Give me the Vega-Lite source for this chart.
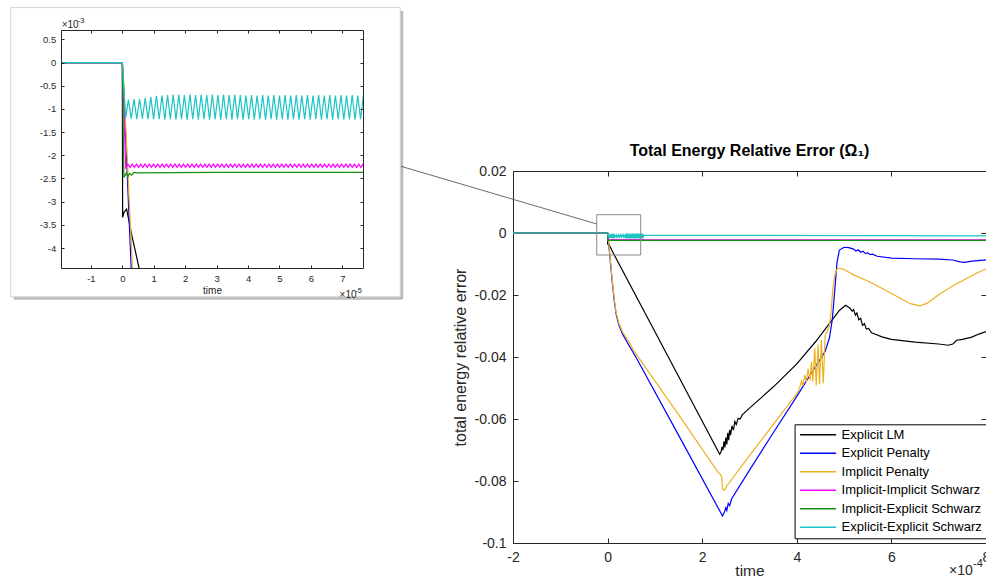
{
"$schema": "https://vega.github.io/schema/vega-lite/v6.json",
"background": "white",
"padding": {"left": 10, "top": 7, "right": 0, "bottom": 0},
"config": {
  "view": {"stroke": null},
  "font": "Liberation Sans",
  "axis": {"grid": false, "domainColor": "#262626", "tickColor": "#262626", "labelColor": "#262626", "titleColor": "#262626", "labelFont": "Liberation Sans", "titleFont": "Liberation Sans", "titleFontWeight": "normal", "labelFlush": false, "labelOverlap": false, "labelBound": false, "zindex": 1, "domainWidth": 1, "tickWidth": 1},
  "title": {"font": "Liberation Sans", "fontSize": 16, "fontWeight": "bold", "color": "#000000", "anchor": "middle", "offset": 5}
},
"datasets": {"energy": [
{"series":"Explicit LM","time":-2,"error":0},{"series":"Explicit LM","time":0,"error":0},{"series":"Explicit LM","time":0.001,"error":-0.00334},{"series":"Explicit LM","time":0.006,"error":-0.00322},{"series":"Explicit LM","time":0.0137,"error":-0.00316},{"series":"Explicit LM","time":0.03,"error":-0.00372},{"series":"Explicit LM","time":0.053,"error":-0.00442},{"series":"Explicit LM","time":0.1,"error":-0.0059},{"series":"Explicit LM","time":1.2,"error":-0.0376},{"series":"Explicit LM","time":2.37,"error":-0.0714},{"series":"Explicit LM","time":2.40,"error":-0.0706},{"series":"Explicit LM","time":2.42,"error":-0.0690},{"series":"Explicit LM","time":2.44,"error":-0.0700},{"series":"Explicit LM","time":2.46,"error":-0.0672},{"series":"Explicit LM","time":2.48,"error":-0.0692},{"series":"Explicit LM","time":2.50,"error":-0.0660},{"series":"Explicit LM","time":2.52,"error":-0.0682},{"series":"Explicit LM","time":2.54,"error":-0.0645},{"series":"Explicit LM","time":2.56,"error":-0.0668},{"series":"Explicit LM","time":2.58,"error":-0.0635},{"series":"Explicit LM","time":2.60,"error":-0.0652},{"series":"Explicit LM","time":2.63,"error":-0.0622},{"series":"Explicit LM","time":2.66,"error":-0.0636},{"series":"Explicit LM","time":2.69,"error":-0.0608},{"series":"Explicit LM","time":2.72,"error":-0.0618},{"series":"Explicit LM","time":2.76,"error":-0.0598},{"series":"Explicit LM","time":2.80,"error":-0.0600},{"series":"Explicit LM","time":2.85,"error":-0.0586},{"series":"Explicit LM","time":3.0,"error":-0.0565},{"series":"Explicit LM","time":3.5,"error":-0.0497},{"series":"Explicit LM","time":4.0,"error":-0.0422},{"series":"Explicit LM","time":4.4,"error":-0.0350},{"series":"Explicit LM","time":4.7,"error":-0.0290},{"series":"Explicit LM","time":4.9,"error":-0.0250},{"series":"Explicit LM","time":5.03,"error":-0.0233},{"series":"Explicit LM","time":5.12,"error":-0.0242},{"series":"Explicit LM","time":5.17,"error":-0.0252},{"series":"Explicit LM","time":5.20,"error":-0.0247},{"series":"Explicit LM","time":5.24,"error":-0.0265},{"series":"Explicit LM","time":5.27,"error":-0.0258},{"series":"Explicit LM","time":5.31,"error":-0.0280},{"series":"Explicit LM","time":5.35,"error":-0.0275},{"series":"Explicit LM","time":5.39,"error":-0.0298},{"series":"Explicit LM","time":5.43,"error":-0.0292},{"series":"Explicit LM","time":5.47,"error":-0.0310},{"series":"Explicit LM","time":5.52,"error":-0.0308},{"series":"Explicit LM","time":5.58,"error":-0.0322},{"series":"Explicit LM","time":5.65,"error":-0.0326},{"series":"Explicit LM","time":5.8,"error":-0.0335},{"series":"Explicit LM","time":6.0,"error":-0.0343},{"series":"Explicit LM","time":6.5,"error":-0.0352},{"series":"Explicit LM","time":7.0,"error":-0.0358},{"series":"Explicit LM","time":7.2,"error":-0.0362},{"series":"Explicit LM","time":7.3,"error":-0.0358},{"series":"Explicit LM","time":7.38,"error":-0.0346},{"series":"Explicit LM","time":7.5,"error":-0.0343},{"series":"Explicit LM","time":7.7,"error":-0.0336},{"series":"Explicit LM","time":7.85,"error":-0.0326},{"series":"Explicit LM","time":8.0,"error":-0.0318},
{"series":"Explicit Penalty","time":-2,"error":0},{"series":"Explicit Penalty","time":0,"error":0},{"series":"Explicit Penalty","time":0.002,"error":-0.0002},{"series":"Explicit Penalty","time":0.028,"error":-0.0044},{"series":"Explicit Penalty","time":0.06,"error":-0.0095},{"series":"Explicit Penalty","time":0.1,"error":-0.0160},{"series":"Explicit Penalty","time":0.14,"error":-0.0218},{"series":"Explicit Penalty","time":0.18,"error":-0.0262},{"series":"Explicit Penalty","time":0.24,"error":-0.0298},{"series":"Explicit Penalty","time":0.32,"error":-0.0327},{"series":"Explicit Penalty","time":0.45,"error":-0.0362},{"series":"Explicit Penalty","time":0.6,"error":-0.0401},{"series":"Explicit Penalty","time":1.5,"error":-0.0652},{"series":"Explicit Penalty","time":2.43,"error":-0.0913},{"series":"Explicit Penalty","time":2.47,"error":-0.0900},{"series":"Explicit Penalty","time":2.50,"error":-0.0886},{"series":"Explicit Penalty","time":2.52,"error":-0.0895},{"series":"Explicit Penalty","time":2.55,"error":-0.0872},{"series":"Explicit Penalty","time":2.58,"error":-0.0880},{"series":"Explicit Penalty","time":2.62,"error":-0.0858},{"series":"Explicit Penalty","time":3.0,"error":-0.0765},{"series":"Explicit Penalty","time":3.5,"error":-0.0645},{"series":"Explicit Penalty","time":4.0,"error":-0.0527},{"series":"Explicit Penalty","time":4.3,"error":-0.0454},{"series":"Explicit Penalty","time":4.6,"error":-0.0382},{"series":"Explicit Penalty","time":4.69,"error":-0.0338},{"series":"Explicit Penalty","time":4.75,"error":-0.0280},{"series":"Explicit Penalty","time":4.80,"error":-0.0190},{"series":"Explicit Penalty","time":4.85,"error":-0.0095},{"series":"Explicit Penalty","time":4.90,"error":-0.0055},{"series":"Explicit Penalty","time":5.0,"error":-0.0046},{"series":"Explicit Penalty","time":5.1,"error":-0.0047},{"series":"Explicit Penalty","time":5.2,"error":-0.0052},{"series":"Explicit Penalty","time":5.25,"error":-0.0058},{"series":"Explicit Penalty","time":5.3,"error":-0.0054},{"series":"Explicit Penalty","time":5.35,"error":-0.0062},{"series":"Explicit Penalty","time":5.4,"error":-0.0059},{"series":"Explicit Penalty","time":5.45,"error":-0.0066},{"series":"Explicit Penalty","time":5.5,"error":-0.0064},{"series":"Explicit Penalty","time":5.55,"error":-0.0070},{"series":"Explicit Penalty","time":5.6,"error":-0.0068},{"series":"Explicit Penalty","time":5.7,"error":-0.0075},{"series":"Explicit Penalty","time":6.0,"error":-0.0081},{"series":"Explicit Penalty","time":6.5,"error":-0.0083},{"series":"Explicit Penalty","time":7.0,"error":-0.0084},{"series":"Explicit Penalty","time":7.3,"error":-0.0087},{"series":"Explicit Penalty","time":7.45,"error":-0.0093},{"series":"Explicit Penalty","time":7.55,"error":-0.0095},{"series":"Explicit Penalty","time":7.7,"error":-0.0091},{"series":"Explicit Penalty","time":8.0,"error":-0.0087},
{"series":"Implicit Penalty","time":-2,"error":0},{"series":"Implicit Penalty","time":0,"error":0},{"series":"Implicit Penalty","time":0.002,"error":-0.0001},{"series":"Implicit Penalty","time":0.032,"error":-0.0044},{"series":"Implicit Penalty","time":0.065,"error":-0.0096},{"series":"Implicit Penalty","time":0.1,"error":-0.0155},{"series":"Implicit Penalty","time":0.14,"error":-0.0212},{"series":"Implicit Penalty","time":0.18,"error":-0.0256},{"series":"Implicit Penalty","time":0.24,"error":-0.0292},{"series":"Implicit Penalty","time":0.32,"error":-0.0320},{"series":"Implicit Penalty","time":0.45,"error":-0.0352},{"series":"Implicit Penalty","time":0.6,"error":-0.0390},{"series":"Implicit Penalty","time":1.5,"error":-0.0586},{"series":"Implicit Penalty","time":2.34,"error":-0.0773},{"series":"Implicit Penalty","time":2.38,"error":-0.0778},{"series":"Implicit Penalty","time":2.41,"error":-0.0786},{"series":"Implicit Penalty","time":2.43,"error":-0.0825},{"series":"Implicit Penalty","time":2.47,"error":-0.0830},{"series":"Implicit Penalty","time":2.52,"error":-0.0816},{"series":"Implicit Penalty","time":3.0,"error":-0.0718},{"series":"Implicit Penalty","time":3.5,"error":-0.0618},{"series":"Implicit Penalty","time":4.0,"error":-0.0518},{"series":"Implicit Penalty","time":4.05,"error":-0.0505},{"series":"Implicit Penalty","time":4.10,"error":-0.0478},{"series":"Implicit Penalty","time":4.13,"error":-0.0492},{"series":"Implicit Penalty","time":4.17,"error":-0.0458},{"series":"Implicit Penalty","time":4.20,"error":-0.0482},{"series":"Implicit Penalty","time":4.24,"error":-0.0438},{"series":"Implicit Penalty","time":4.28,"error":-0.0476},{"series":"Implicit Penalty","time":4.31,"error":-0.0415},{"series":"Implicit Penalty","time":4.34,"error":-0.0480},{"series":"Implicit Penalty","time":4.38,"error":-0.0372},{"series":"Implicit Penalty","time":4.41,"error":-0.0492},{"series":"Implicit Penalty","time":4.45,"error":-0.0360},{"series":"Implicit Penalty","time":4.48,"error":-0.0488},{"series":"Implicit Penalty","time":4.52,"error":-0.0345},{"series":"Implicit Penalty","time":4.56,"error":-0.0485},{"series":"Implicit Penalty","time":4.60,"error":-0.0330},{"series":"Implicit Penalty","time":4.64,"error":-0.0318},{"series":"Implicit Penalty","time":4.68,"error":-0.0305},{"series":"Implicit Penalty","time":4.72,"error":-0.0262},{"series":"Implicit Penalty","time":4.76,"error":-0.0185},{"series":"Implicit Penalty","time":4.80,"error":-0.0138},{"series":"Implicit Penalty","time":4.85,"error":-0.0116},{"series":"Implicit Penalty","time":4.9,"error":-0.0113},{"series":"Implicit Penalty","time":5.0,"error":-0.0118},{"series":"Implicit Penalty","time":5.2,"error":-0.0135},{"series":"Implicit Penalty","time":5.5,"error":-0.0155},{"series":"Implicit Penalty","time":5.8,"error":-0.0178},{"series":"Implicit Penalty","time":6.1,"error":-0.0203},{"series":"Implicit Penalty","time":6.4,"error":-0.0228},{"series":"Implicit Penalty","time":6.6,"error":-0.0235},{"series":"Implicit Penalty","time":6.75,"error":-0.0227},{"series":"Implicit Penalty","time":7.0,"error":-0.0199},{"series":"Implicit Penalty","time":7.3,"error":-0.0170},{"series":"Implicit Penalty","time":7.6,"error":-0.0146},{"series":"Implicit Penalty","time":7.8,"error":-0.0130},{"series":"Implicit Penalty","time":8.0,"error":-0.0116},
{"series":"Implicit-Implicit Schwarz","time":-2,"error":0},{"series":"Implicit-Implicit Schwarz","time":0,"error":0},
{"series":"Implicit-Implicit Schwarz","time":0.0110,"error":-0.00229},{"series":"Implicit-Implicit Schwarz","time":0.0178,"error":-0.00219},{"series":"Implicit-Implicit Schwarz","time":0.0246,"error":-0.00226},{"series":"Implicit-Implicit Schwarz","time":0.0314,"error":-0.00219},{"series":"Implicit-Implicit Schwarz","time":0.0382,"error":-0.00226},{"series":"Implicit-Implicit Schwarz","time":0.0450,"error":-0.00219},{"series":"Implicit-Implicit Schwarz","time":0.0518,"error":-0.00226},{"series":"Implicit-Implicit Schwarz","time":0.0586,"error":-0.00219},{"series":"Implicit-Implicit Schwarz","time":0.0654,"error":-0.00226},{"series":"Implicit-Implicit Schwarz","time":0.0722,"error":-0.00219},
{"series":"Implicit-Implicit Schwarz","time":0.0790,"error":-0.00226},{"series":"Implicit-Implicit Schwarz","time":0.0858,"error":-0.00219},{"series":"Implicit-Implicit Schwarz","time":0.0926,"error":-0.00226},{"series":"Implicit-Implicit Schwarz","time":0.0994,"error":-0.00219},{"series":"Implicit-Implicit Schwarz","time":0.1062,"error":-0.00226},{"series":"Implicit-Implicit Schwarz","time":0.1130,"error":-0.00219},{"series":"Implicit-Implicit Schwarz","time":0.1198,"error":-0.00226},{"series":"Implicit-Implicit Schwarz","time":0.1266,"error":-0.00219},{"series":"Implicit-Implicit Schwarz","time":0.1334,"error":-0.00226},{"series":"Implicit-Implicit Schwarz","time":0.1402,"error":-0.00219},
{"series":"Implicit-Implicit Schwarz","time":0.1470,"error":-0.00226},{"series":"Implicit-Implicit Schwarz","time":0.1538,"error":-0.00219},{"series":"Implicit-Implicit Schwarz","time":0.1606,"error":-0.00226},{"series":"Implicit-Implicit Schwarz","time":0.1674,"error":-0.00219},{"series":"Implicit-Implicit Schwarz","time":0.1742,"error":-0.00226},{"series":"Implicit-Implicit Schwarz","time":0.1810,"error":-0.00219},{"series":"Implicit-Implicit Schwarz","time":0.1878,"error":-0.00226},{"series":"Implicit-Implicit Schwarz","time":0.1946,"error":-0.00219},{"series":"Implicit-Implicit Schwarz","time":0.2014,"error":-0.00226},{"series":"Implicit-Implicit Schwarz","time":0.2082,"error":-0.00219},
{"series":"Implicit-Implicit Schwarz","time":0.2150,"error":-0.00226},{"series":"Implicit-Implicit Schwarz","time":0.2218,"error":-0.00219},{"series":"Implicit-Implicit Schwarz","time":0.2286,"error":-0.00226},{"series":"Implicit-Implicit Schwarz","time":0.2354,"error":-0.00219},{"series":"Implicit-Implicit Schwarz","time":0.2422,"error":-0.00226},{"series":"Implicit-Implicit Schwarz","time":0.2490,"error":-0.00219},{"series":"Implicit-Implicit Schwarz","time":0.2558,"error":-0.00226},{"series":"Implicit-Implicit Schwarz","time":0.2626,"error":-0.00219},{"series":"Implicit-Implicit Schwarz","time":0.2694,"error":-0.00226},{"series":"Implicit-Implicit Schwarz","time":0.2762,"error":-0.00219},
{"series":"Implicit-Implicit Schwarz","time":0.2830,"error":-0.00226},{"series":"Implicit-Implicit Schwarz","time":0.2898,"error":-0.00219},{"series":"Implicit-Implicit Schwarz","time":0.2966,"error":-0.00226},{"series":"Implicit-Implicit Schwarz","time":0.3034,"error":-0.00219},{"series":"Implicit-Implicit Schwarz","time":0.3102,"error":-0.00226},{"series":"Implicit-Implicit Schwarz","time":0.3170,"error":-0.00219},{"series":"Implicit-Implicit Schwarz","time":0.3238,"error":-0.00226},{"series":"Implicit-Implicit Schwarz","time":0.3306,"error":-0.00219},{"series":"Implicit-Implicit Schwarz","time":0.3374,"error":-0.00226},{"series":"Implicit-Implicit Schwarz","time":0.3442,"error":-0.00219},
{"series":"Implicit-Implicit Schwarz","time":0.3510,"error":-0.00226},{"series":"Implicit-Implicit Schwarz","time":0.3578,"error":-0.00219},{"series":"Implicit-Implicit Schwarz","time":0.3646,"error":-0.00226},{"series":"Implicit-Implicit Schwarz","time":0.3714,"error":-0.00219},{"series":"Implicit-Implicit Schwarz","time":0.3782,"error":-0.00226},{"series":"Implicit-Implicit Schwarz","time":0.3850,"error":-0.00219},{"series":"Implicit-Implicit Schwarz","time":0.3918,"error":-0.00226},{"series":"Implicit-Implicit Schwarz","time":0.3986,"error":-0.00219},{"series":"Implicit-Implicit Schwarz","time":0.4054,"error":-0.00226},{"series":"Implicit-Implicit Schwarz","time":0.4122,"error":-0.00219},
{"series":"Implicit-Implicit Schwarz","time":0.4190,"error":-0.00226},{"series":"Implicit-Implicit Schwarz","time":0.4258,"error":-0.00219},{"series":"Implicit-Implicit Schwarz","time":0.4326,"error":-0.00226},{"series":"Implicit-Implicit Schwarz","time":0.4394,"error":-0.00219},{"series":"Implicit-Implicit Schwarz","time":0.4462,"error":-0.00226},{"series":"Implicit-Implicit Schwarz","time":0.4530,"error":-0.00219},{"series":"Implicit-Implicit Schwarz","time":0.4598,"error":-0.00226},{"series":"Implicit-Implicit Schwarz","time":0.4666,"error":-0.00219},{"series":"Implicit-Implicit Schwarz","time":0.4734,"error":-0.00226},{"series":"Implicit-Implicit Schwarz","time":0.4802,"error":-0.00219},
{"series":"Implicit-Implicit Schwarz","time":0.4870,"error":-0.00226},{"series":"Implicit-Implicit Schwarz","time":0.4938,"error":-0.00219},{"series":"Implicit-Implicit Schwarz","time":0.5006,"error":-0.00226},{"series":"Implicit-Implicit Schwarz","time":0.5074,"error":-0.00219},{"series":"Implicit-Implicit Schwarz","time":0.5142,"error":-0.00226},{"series":"Implicit-Implicit Schwarz","time":0.5210,"error":-0.00219},{"series":"Implicit-Implicit Schwarz","time":0.5278,"error":-0.00226},{"series":"Implicit-Implicit Schwarz","time":0.5346,"error":-0.00219},{"series":"Implicit-Implicit Schwarz","time":0.5414,"error":-0.00226},{"series":"Implicit-Implicit Schwarz","time":0.5482,"error":-0.00219},
{"series":"Implicit-Implicit Schwarz","time":0.5550,"error":-0.00226},{"series":"Implicit-Implicit Schwarz","time":0.5618,"error":-0.00219},{"series":"Implicit-Implicit Schwarz","time":0.5686,"error":-0.00226},{"series":"Implicit-Implicit Schwarz","time":0.5754,"error":-0.00219},{"series":"Implicit-Implicit Schwarz","time":0.5822,"error":-0.00226},{"series":"Implicit-Implicit Schwarz","time":0.5890,"error":-0.00219},{"series":"Implicit-Implicit Schwarz","time":0.5958,"error":-0.00226},{"series":"Implicit-Implicit Schwarz","time":0.6026,"error":-0.00219},{"series":"Implicit-Implicit Schwarz","time":0.6094,"error":-0.00226},{"series":"Implicit-Implicit Schwarz","time":0.6162,"error":-0.00219},
{"series":"Implicit-Implicit Schwarz","time":0.6230,"error":-0.00226},{"series":"Implicit-Implicit Schwarz","time":0.6298,"error":-0.00219},{"series":"Implicit-Implicit Schwarz","time":0.6366,"error":-0.00226},{"series":"Implicit-Implicit Schwarz","time":0.6434,"error":-0.00219},{"series":"Implicit-Implicit Schwarz","time":0.6502,"error":-0.00226},{"series":"Implicit-Implicit Schwarz","time":0.6570,"error":-0.00219},{"series":"Implicit-Implicit Schwarz","time":0.6638,"error":-0.00226},{"series":"Implicit-Implicit Schwarz","time":0.6706,"error":-0.00219},{"series":"Implicit-Implicit Schwarz","time":0.6774,"error":-0.00226},{"series":"Implicit-Implicit Schwarz","time":0.6842,"error":-0.00219},
{"series":"Implicit-Implicit Schwarz","time":0.6910,"error":-0.00226},{"series":"Implicit-Implicit Schwarz","time":0.6978,"error":-0.00219},{"series":"Implicit-Implicit Schwarz","time":0.7046,"error":-0.00226},{"series":"Implicit-Implicit Schwarz","time":0.7114,"error":-0.00219},{"series":"Implicit-Implicit Schwarz","time":0.7182,"error":-0.00226},{"series":"Implicit-Implicit Schwarz","time":0.7250,"error":-0.00219},{"series":"Implicit-Implicit Schwarz","time":0.7318,"error":-0.00226},{"series":"Implicit-Implicit Schwarz","time":0.7386,"error":-0.00219},{"series":"Implicit-Implicit Schwarz","time":0.7454,"error":-0.00226},{"series":"Implicit-Implicit Schwarz","time":0.7522,"error":-0.00219},
{"series":"Implicit-Implicit Schwarz","time":0.7590,"error":-0.00226},{"series":"Implicit-Implicit Schwarz","time":0.7658,"error":-0.00219},{"series":"Implicit-Implicit Schwarz","time":8.0,"error":-0.00222},
{"series":"Implicit-Explicit Schwarz","time":-2,"error":0},{"series":"Implicit-Explicit Schwarz","time":0,"error":0},{"series":"Implicit-Explicit Schwarz","time":0.0051,"error":-0.00248},{"series":"Implicit-Explicit Schwarz","time":0.0127,"error":-0.00238},{"series":"Implicit-Explicit Schwarz","time":0.0178,"error":-0.00246},{"series":"Implicit-Explicit Schwarz","time":0.0232,"error":-0.00239},{"series":"Implicit-Explicit Schwarz","time":0.0296,"error":-0.00243},{"series":"Implicit-Explicit Schwarz","time":0.0369,"error":-0.00237},{"series":"Implicit-Explicit Schwarz","time":0.045,"error":-0.00238},{"series":"Implicit-Explicit Schwarz","time":0.3,"error":-0.002368},{"series":"Implicit-Explicit Schwarz","time":8.0,"error":-0.00237},
{"series":"Explicit-Explicit Schwarz","time":-2,"error":0},{"series":"Explicit-Explicit Schwarz","time":0,"error":0},
{"series":"Explicit-Explicit Schwarz","time":0.0105,"error":-0.00120},{"series":"Explicit-Explicit Schwarz","time":0.0194,"error":-0.00080},{"series":"Explicit-Explicit Schwarz","time":0.0283,"error":-0.00121},{"series":"Explicit-Explicit Schwarz","time":0.0372,"error":-0.00079},{"series":"Explicit-Explicit Schwarz","time":0.0461,"error":-0.00122},{"series":"Explicit-Explicit Schwarz","time":0.0550,"error":-0.00078},{"series":"Explicit-Explicit Schwarz","time":0.0639,"error":-0.00121},{"series":"Explicit-Explicit Schwarz","time":0.0728,"error":-0.00076},{"series":"Explicit-Explicit Schwarz","time":0.0817,"error":-0.00122},{"series":"Explicit-Explicit Schwarz","time":0.0906,"error":-0.00074},
{"series":"Explicit-Explicit Schwarz","time":0.0995,"error":-0.00122},{"series":"Explicit-Explicit Schwarz","time":0.1084,"error":-0.00072},{"series":"Explicit-Explicit Schwarz","time":0.1173,"error":-0.00122},{"series":"Explicit-Explicit Schwarz","time":0.1262,"error":-0.00071},{"series":"Explicit-Explicit Schwarz","time":0.1351,"error":-0.00123},{"series":"Explicit-Explicit Schwarz","time":0.1440,"error":-0.00070},{"series":"Explicit-Explicit Schwarz","time":0.1529,"error":-0.00122},{"series":"Explicit-Explicit Schwarz","time":0.1618,"error":-0.00069},{"series":"Explicit-Explicit Schwarz","time":0.1707,"error":-0.00123},{"series":"Explicit-Explicit Schwarz","time":0.1796,"error":-0.00069},
{"series":"Explicit-Explicit Schwarz","time":0.1885,"error":-0.00122},{"series":"Explicit-Explicit Schwarz","time":0.1974,"error":-0.00070},{"series":"Explicit-Explicit Schwarz","time":0.2063,"error":-0.00123},{"series":"Explicit-Explicit Schwarz","time":0.2152,"error":-0.00069},{"series":"Explicit-Explicit Schwarz","time":0.2241,"error":-0.00122},{"series":"Explicit-Explicit Schwarz","time":0.2330,"error":-0.00070},{"series":"Explicit-Explicit Schwarz","time":0.2419,"error":-0.00123},{"series":"Explicit-Explicit Schwarz","time":0.2508,"error":-0.00069},{"series":"Explicit-Explicit Schwarz","time":0.2597,"error":-0.00122},{"series":"Explicit-Explicit Schwarz","time":0.2686,"error":-0.00070},
{"series":"Explicit-Explicit Schwarz","time":0.2775,"error":-0.00123},{"series":"Explicit-Explicit Schwarz","time":0.2864,"error":-0.00069},{"series":"Explicit-Explicit Schwarz","time":0.2953,"error":-0.00122},{"series":"Explicit-Explicit Schwarz","time":0.3042,"error":-0.00070},{"series":"Explicit-Explicit Schwarz","time":0.3131,"error":-0.00123},{"series":"Explicit-Explicit Schwarz","time":0.3220,"error":-0.00069},{"series":"Explicit-Explicit Schwarz","time":0.3309,"error":-0.00122},{"series":"Explicit-Explicit Schwarz","time":0.3398,"error":-0.00070},{"series":"Explicit-Explicit Schwarz","time":0.3487,"error":-0.00123},{"series":"Explicit-Explicit Schwarz","time":0.3576,"error":-0.00069},
{"series":"Explicit-Explicit Schwarz","time":0.3665,"error":-0.00122},{"series":"Explicit-Explicit Schwarz","time":0.3754,"error":-0.00070},{"series":"Explicit-Explicit Schwarz","time":0.3843,"error":-0.00123},{"series":"Explicit-Explicit Schwarz","time":0.3932,"error":-0.00071},{"series":"Explicit-Explicit Schwarz","time":0.4021,"error":-0.00122},{"series":"Explicit-Explicit Schwarz","time":0.4110,"error":-0.00070},{"series":"Explicit-Explicit Schwarz","time":0.4199,"error":-0.00123},{"series":"Explicit-Explicit Schwarz","time":0.4288,"error":-0.00071},{"series":"Explicit-Explicit Schwarz","time":0.4377,"error":-0.00122},{"series":"Explicit-Explicit Schwarz","time":0.4466,"error":-0.00070},
{"series":"Explicit-Explicit Schwarz","time":0.4555,"error":-0.00123},{"series":"Explicit-Explicit Schwarz","time":0.4644,"error":-0.00071},{"series":"Explicit-Explicit Schwarz","time":0.4733,"error":-0.00122},{"series":"Explicit-Explicit Schwarz","time":0.4822,"error":-0.00070},{"series":"Explicit-Explicit Schwarz","time":0.4911,"error":-0.00123},{"series":"Explicit-Explicit Schwarz","time":0.5000,"error":-0.00071},{"series":"Explicit-Explicit Schwarz","time":0.5089,"error":-0.00122},{"series":"Explicit-Explicit Schwarz","time":0.5178,"error":-0.00070},{"series":"Explicit-Explicit Schwarz","time":0.5267,"error":-0.00123},{"series":"Explicit-Explicit Schwarz","time":0.5356,"error":-0.00071},
{"series":"Explicit-Explicit Schwarz","time":0.5445,"error":-0.00122},{"series":"Explicit-Explicit Schwarz","time":0.5534,"error":-0.00070},{"series":"Explicit-Explicit Schwarz","time":0.5623,"error":-0.00123},{"series":"Explicit-Explicit Schwarz","time":0.5712,"error":-0.00071},{"series":"Explicit-Explicit Schwarz","time":0.5801,"error":-0.00122},{"series":"Explicit-Explicit Schwarz","time":0.5890,"error":-0.00070},{"series":"Explicit-Explicit Schwarz","time":0.5979,"error":-0.00123},{"series":"Explicit-Explicit Schwarz","time":0.6068,"error":-0.00071},{"series":"Explicit-Explicit Schwarz","time":0.6157,"error":-0.00122},{"series":"Explicit-Explicit Schwarz","time":0.6246,"error":-0.00070},
{"series":"Explicit-Explicit Schwarz","time":0.6335,"error":-0.00123},{"series":"Explicit-Explicit Schwarz","time":0.6424,"error":-0.00071},{"series":"Explicit-Explicit Schwarz","time":0.6513,"error":-0.00122},{"series":"Explicit-Explicit Schwarz","time":0.6602,"error":-0.00070},{"series":"Explicit-Explicit Schwarz","time":0.6691,"error":-0.00123},{"series":"Explicit-Explicit Schwarz","time":0.6780,"error":-0.00071},{"series":"Explicit-Explicit Schwarz","time":0.6869,"error":-0.00122},{"series":"Explicit-Explicit Schwarz","time":0.6958,"error":-0.00070},{"series":"Explicit-Explicit Schwarz","time":0.7047,"error":-0.00123},{"series":"Explicit-Explicit Schwarz","time":0.7136,"error":-0.00071},
{"series":"Explicit-Explicit Schwarz","time":0.7225,"error":-0.00122},{"series":"Explicit-Explicit Schwarz","time":0.7314,"error":-0.00070},{"series":"Explicit-Explicit Schwarz","time":0.7403,"error":-0.00123},{"series":"Explicit-Explicit Schwarz","time":0.7492,"error":-0.00071},{"series":"Explicit-Explicit Schwarz","time":0.7581,"error":-0.00122},{"series":"Explicit-Explicit Schwarz","time":0.7670,"error":-0.00070},{"series":"Explicit-Explicit Schwarz","time":8.0,"error":-0.00095}
]},
"hconcat": [
  {
    "width": 302, "height": 238,
    "layer": [
      {"data": {"values": [{}]}, "mark": {"type": "rule", "clip": false, "stroke": "#bcbcbc", "strokeWidth": 3},
       "encoding": {"x": {"datum": 0.8891, "type": "quantitative", "scale": {"domain": [-0.1951, 0.7658], "nice": false, "zero": false}, "axis": null},
                    "y": {"datum": 0.001114, "type": "quantitative", "scale": {"domain": [-0.00443, 0.000702], "nice": false, "zero": false}, "axis": null}, "y2": {"datum": -0.005104}}},
      {"data": {"values": [{}]}, "mark": {"type": "rule", "clip": false, "stroke": "#bcbcbc", "strokeWidth": 3},
       "encoding": {"x": {"datum": -0.3454, "type": "quantitative", "scale": {"domain": [-0.1951, 0.7658], "nice": false, "zero": false}, "axis": null}, "x2": {"datum": 0.8891},
                    "y": {"datum": -0.005083, "type": "quantitative", "scale": {"domain": [-0.00443, 0.000702], "nice": false, "zero": false}, "axis": null}}},
      {"data": {"values": [{}]}, "mark": {"type": "rect", "clip": false, "fill": null, "fillOpacity": 0, "stroke": "#d4d4d4", "strokeWidth": 1},
       "encoding": {"x": {"datum": -0.3549, "type": "quantitative", "scale": {"domain": [-0.1951, 0.7658], "nice": false, "zero": false}, "axis": null}, "x2": {"datum": 0.8843},
                    "y": {"datum": 0.001185, "type": "quantitative", "scale": {"domain": [-0.00443, 0.000702], "nice": false, "zero": false}, "axis": null}, "y2": {"datum": -0.00505}}},
      {"data": {"name": "energy"}, "mark": {"type": "line", "clip": true, "strokeWidth": 1.2},
       "encoding": {
         "x": {"field": "time", "type": "quantitative", "scale": {"domain": [-0.1951, 0.7658], "nice": false, "zero": false},
               "axis": {"orient": "bottom", "zindex": 1, "values": [-0.1, 0, 0.1, 0.2, 0.3, 0.4, 0.5, 0.6, 0.7], "labelExpr": "'' + round(datum.value*10)", "tickSize": -3, "labelPadding": 8, "labelFontSize": 9.5, "title": "time", "titleFontSize": 10, "titleY": 25.5, "titleBaseline": "alphabetic"}},
         "y": {"field": "error", "type": "quantitative", "scale": {"domain": [-0.00443, 0.000702], "nice": false, "zero": false},
               "axis": {"orient": "left", "zindex": 1, "values": [0.0005, 0, -0.0005, -0.001, -0.0015, -0.002, -0.0025, -0.003, -0.0035, -0.004], "labelExpr": "'' + round(datum.value*10000)/10", "tickSize": -3, "labelPadding": 8.3, "labelFontSize": 9.5, "title": null}},
         "color": {"field": "series", "type": "nominal", "scale": {"domain": ["Explicit LM", "Explicit Penalty", "Implicit Penalty", "Implicit-Implicit Schwarz", "Implicit-Explicit Schwarz", "Explicit-Explicit Schwarz"], "range": ["#000000", "#0000ff", "#edb120", "#ff00ff", "#109010", "#1cc4c4"]}, "legend": null}
       }},
      {"data": {"name": "energy"}, "mark": {"type": "line", "clip": true, "strokeOpacity": 0},
       "encoding": {
         "x": {"field": "time", "type": "quantitative", "scale": {"domain": [-0.1951, 0.7658], "nice": false, "zero": false},
               "axis": {"orient": "top", "zindex": 1, "values": [-0.1, 0, 0.1, 0.2, 0.3, 0.4, 0.5, 0.6, 0.7], "labels": false, "tickSize": -3, "title": null}},
         "y": {"field": "error", "type": "quantitative", "scale": {"domain": [-0.00443, 0.000702], "nice": false, "zero": false},
               "axis": {"orient": "right", "zindex": 1, "values": [0.0005, 0, -0.0005, -0.001, -0.0015, -0.002, -0.0025, -0.003, -0.0035, -0.004], "labels": false, "tickSize": -3, "title": null}},
         "detail": {"field": "series", "type": "nominal"}
       }},
      {"data": {"values": [{}]}, "mark": {"type": "text", "text": "×10", "align": "left", "baseline": "middle", "fontSize": 10, "font": "Liberation Sans", "color": "#262626", "clip": false},
       "encoding": {"x": {"datum": -0.1929, "type": "quantitative", "scale": {"domain": [-0.1951, 0.7658], "nice": false, "zero": false}, "axis": null},
                    "y": {"datum": 0.000812, "type": "quantitative", "scale": {"domain": [-0.00443, 0.000702], "nice": false, "zero": false}, "axis": null}}},
      {"data": {"values": [{}]}, "mark": {"type": "text", "text": "-3", "align": "left", "baseline": "middle", "fontSize": 7.5, "font": "Liberation Sans", "color": "#262626", "clip": false},
       "encoding": {"x": {"datum": -0.1420, "type": "quantitative", "scale": {"domain": [-0.1951, 0.7658], "nice": false, "zero": false}, "axis": null},
                    "y": {"datum": 0.000898, "type": "quantitative", "scale": {"domain": [-0.00443, 0.000702], "nice": false, "zero": false}, "axis": null}}},
      {"data": {"values": [{}]}, "mark": {"type": "text", "text": "×10", "align": "left", "baseline": "middle", "fontSize": 10, "font": "Liberation Sans", "color": "#262626", "clip": false},
       "encoding": {"x": {"datum": 0.6914, "type": "quantitative", "scale": {"domain": [-0.1951, 0.7658], "nice": false, "zero": false}, "axis": null},
                    "y": {"datum": -0.005014, "type": "quantitative", "scale": {"domain": [-0.00443, 0.000702], "nice": false, "zero": false}, "axis": null}}},
      {"data": {"values": [{}]}, "mark": {"type": "text", "text": "-5", "align": "left", "baseline": "middle", "fontSize": 7.5, "font": "Liberation Sans", "color": "#262626", "clip": false},
       "encoding": {"x": {"datum": 0.7413, "type": "quantitative", "scale": {"domain": [-0.1951, 0.7658], "nice": false, "zero": false}, "axis": null},
                    "y": {"datum": -0.00492, "type": "quantitative", "scale": {"domain": [-0.00443, 0.000702], "nice": false, "zero": false}, "axis": null}}}
    ],
    "resolve": {"axis": {"x": "independent", "y": "independent"}}
  },
  {
    "vconcat": [
      {"width": 473, "height": 141, "data": {"values": []}, "mark": "point"},
      {
        "width": 473, "height": 372,
        "title": {"text": "Total Energy Relative Error (Ω₁)"},
        "layer": [
          {"data": {"name": "energy"}, "mark": {"type": "line", "strokeWidth": 1.2},
           "encoding": {
             "x": {"field": "time", "type": "quantitative", "scale": {"domain": [-2, 8], "nice": false, "zero": false},
                   "axis": {"orient": "bottom", "values": [-2, 0, 2, 4, 6, 8], "labelExpr": "'' + datum.value", "tickSize": -5, "labelPadding": 12, "labelFontSize": 14, "title": "time", "titleFontSize": 15.5, "titleY": 32, "titleBaseline": "alphabetic"}},
             "y": {"field": "error", "type": "quantitative", "scale": {"domain": [-0.1, 0.02], "nice": false, "zero": false},
                   "axis": {"orient": "left", "values": [0.02, 0, -0.02, -0.04, -0.06, -0.08, -0.1], "labelExpr": "'' + round(datum.value*100)/100", "tickSize": -5, "labelPadding": 12, "labelFontSize": 14, "title": "total energy relative error", "titleFontSize": 16, "titleX": -48, "titleY": 186, "titleAngle": -90, "titleAlign": "center", "titleBaseline": "alphabetic"}},
             "color": {"field": "series", "type": "nominal", "scale": {"domain": ["Explicit LM", "Explicit Penalty", "Implicit Penalty", "Implicit-Implicit Schwarz", "Implicit-Explicit Schwarz", "Explicit-Explicit Schwarz"], "range": ["#000000", "#0000ff", "#edb120", "#ff00ff", "#109010", "#1cc4c4"]},
                       "legend": {"orient": "none", "legendX": 281.6, "legendY": 253.3, "title": null, "symbolType": "M-3.6,0H3.6", "symbolSize": 100, "symbolOffset": 13, "symbolStrokeWidth": 1.5, "labelOffset": 17, "labelFontSize": 13, "labelFont": "Liberation Sans", "labelColor": "#000000", "strokeColor": "#000000", "fillColor": "#ffffff", "padding": 4, "rowPadding": 4.5, "labelLimit": 300}}
           }},
          {"data": {"name": "energy"}, "mark": {"type": "line", "strokeOpacity": 0},
           "encoding": {
             "x": {"field": "time", "type": "quantitative", "scale": {"domain": [-2, 8], "nice": false, "zero": false},
                   "axis": {"orient": "top", "values": [-2, 0, 2, 4, 6, 8], "labels": false, "tickSize": -5, "title": null}},
             "y": {"field": "error", "type": "quantitative", "scale": {"domain": [-0.1, 0.02], "nice": false, "zero": false},
                   "axis": {"orient": "right", "values": [0.02, 0, -0.02, -0.04, -0.06, -0.08, -0.1], "labels": false, "tickSize": -5, "title": null}},
             "detail": {"field": "series", "type": "nominal"}
           }},
          {"data": {"values": [{}]}, "mark": {"type": "rect", "clip": false, "fill": null, "fillOpacity": 0, "stroke": "#8a8a8a", "strokeWidth": 1},
           "encoding": {"x": {"datum": -0.23, "type": "quantitative", "scale": {"domain": [-2, 8], "nice": false, "zero": false}, "axis": null}, "x2": {"datum": 0.70},
                        "y": {"datum": 0.0059, "type": "quantitative", "scale": {"domain": [-0.1, 0.02], "nice": false, "zero": false}, "axis": null}, "y2": {"datum": -0.0071}}},
          {"data": {"values": [{}]}, "mark": {"type": "rule", "clip": false, "stroke": "#444444", "strokeWidth": 0.8},
           "encoding": {"x": {"datum": -4.368, "type": "quantitative", "scale": {"domain": [-2, 8], "nice": false, "zero": false}, "axis": null}, "x2": {"datum": -0.23},
                        "y": {"datum": 0.021515, "type": "quantitative", "scale": {"domain": [-0.1, 0.02], "nice": false, "zero": false}, "axis": null}, "y2": {"datum": 0.00291}}},
          {"data": {"values": [{}]}, "mark": {"type": "text", "text": "×10", "align": "left", "baseline": "middle", "fontSize": 14, "font": "Liberation Sans", "color": "#262626", "clip": false},
           "encoding": {"x": {"datum": 7.219, "type": "quantitative", "scale": {"domain": [-2, 8], "nice": false, "zero": false}, "axis": null},
                        "y": {"datum": -0.10893, "type": "quantitative", "scale": {"domain": [-0.1, 0.02], "nice": false, "zero": false}, "axis": null}}},
          {"data": {"values": [{}]}, "mark": {"type": "text", "text": "-4", "align": "left", "baseline": "middle", "fontSize": 11, "font": "Liberation Sans", "color": "#262626", "clip": false},
           "encoding": {"x": {"datum": 7.727, "type": "quantitative", "scale": {"domain": [-2, 8], "nice": false, "zero": false}, "axis": null},
                        "y": {"datum": -0.10667, "type": "quantitative", "scale": {"domain": [-0.1, 0.02], "nice": false, "zero": false}, "axis": null}}}
        ],
        "resolve": {"axis": {"x": "independent", "y": "independent"}}
      }
    ],
    "spacing": 0,
    "bounds": "flush",
    "resolve": {"scale": {"color": "independent"}, "legend": {"color": "independent"}}
  }
],
"spacing": 150,
"bounds": "flush",
"resolve": {"scale": {"color": "independent", "x": "independent", "y": "independent"}, "legend": {"color": "independent"}}
}
